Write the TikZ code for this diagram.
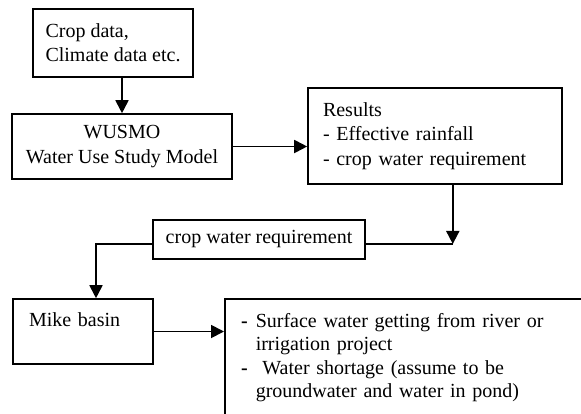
\documentclass[tikz,border=0pt]{standalone}
\usepackage{fontspec}
\setmainfont{Liberation Serif}
\usetikzlibrary{arrows.meta,positioning,calc}
\begin{document}
\begin{tikzpicture}
[x=1pt,y=-1pt,>={Triangle[length=13pt,width=13pt]},
every node/.style={font=\fontsize{20}{24}\selectfont},
box/.style={draw,line width=1.6pt,rectangle},
flow/.style={->,line width=1.8pt}]
\clip (0,0) rectangle (581,413);
\node [box,minimum width=160pt,minimum height=68pt,align=left] (crop) at (113,43) {Crop data,\\Climate data etc.};
\node [box,minimum width=220pt,minimum height=65pt,align=center,font=\fontsize{20}{25}\selectfont] (wusmo) at (122,146.5) {WUSMO\\Water Use Study Model};
\node [box,text width=224pt,inner xsep=15pt,minimum height=96pt,align=left,font=\fontsize{20}{24.5}\selectfont] (results) at (435,136) {Results\\- Effective rainfall\\- crop water requirement};
\node [box,minimum width=212pt,minimum height=39pt] (cwr) at (259,239.5) {crop water requirement};
\node [box,text width=108pt,inner xsep=16pt,inner ysep=0pt,text height=27pt,text depth=38pt,align=left] (mike) at (83,331.5) {Mike basin};
\node [box,line width=2.2pt,anchor=north west,text width=400pt,inner xsep=16pt,inner ysep=11.5pt,align=left,font=\fontsize{20}{23.5}\selectfont] (supply) at (224,298)
{\begin{tabular}{@{}l@{\hspace{8pt}}l@{}}
\textbf{-} & Surface water getting from river or\\
  & irrigation project\\
\textbf{-} & \ Water shortage (assume to be\\
  & groundwater and water in pond)\\[10pt]
\end{tabular}};
\draw [flow] (wusmo.north |- crop.south) -- (wusmo.north);
\draw [flow] (wusmo.east) -- (wusmo.east -| results.west);
\path (cwr.base east) ++(87pt,0) coordinate (join);
\draw [flow] (results.south -| join) -- (join);
\draw [line width=1.8pt] (cwr.base east) -- (join);
\draw [flow] (cwr.base west) -| ([xshift=13pt]mike.north);
\draw [flow] (mike.east) -- (mike.east -| supply.west);
\end{tikzpicture}
\end{document}
